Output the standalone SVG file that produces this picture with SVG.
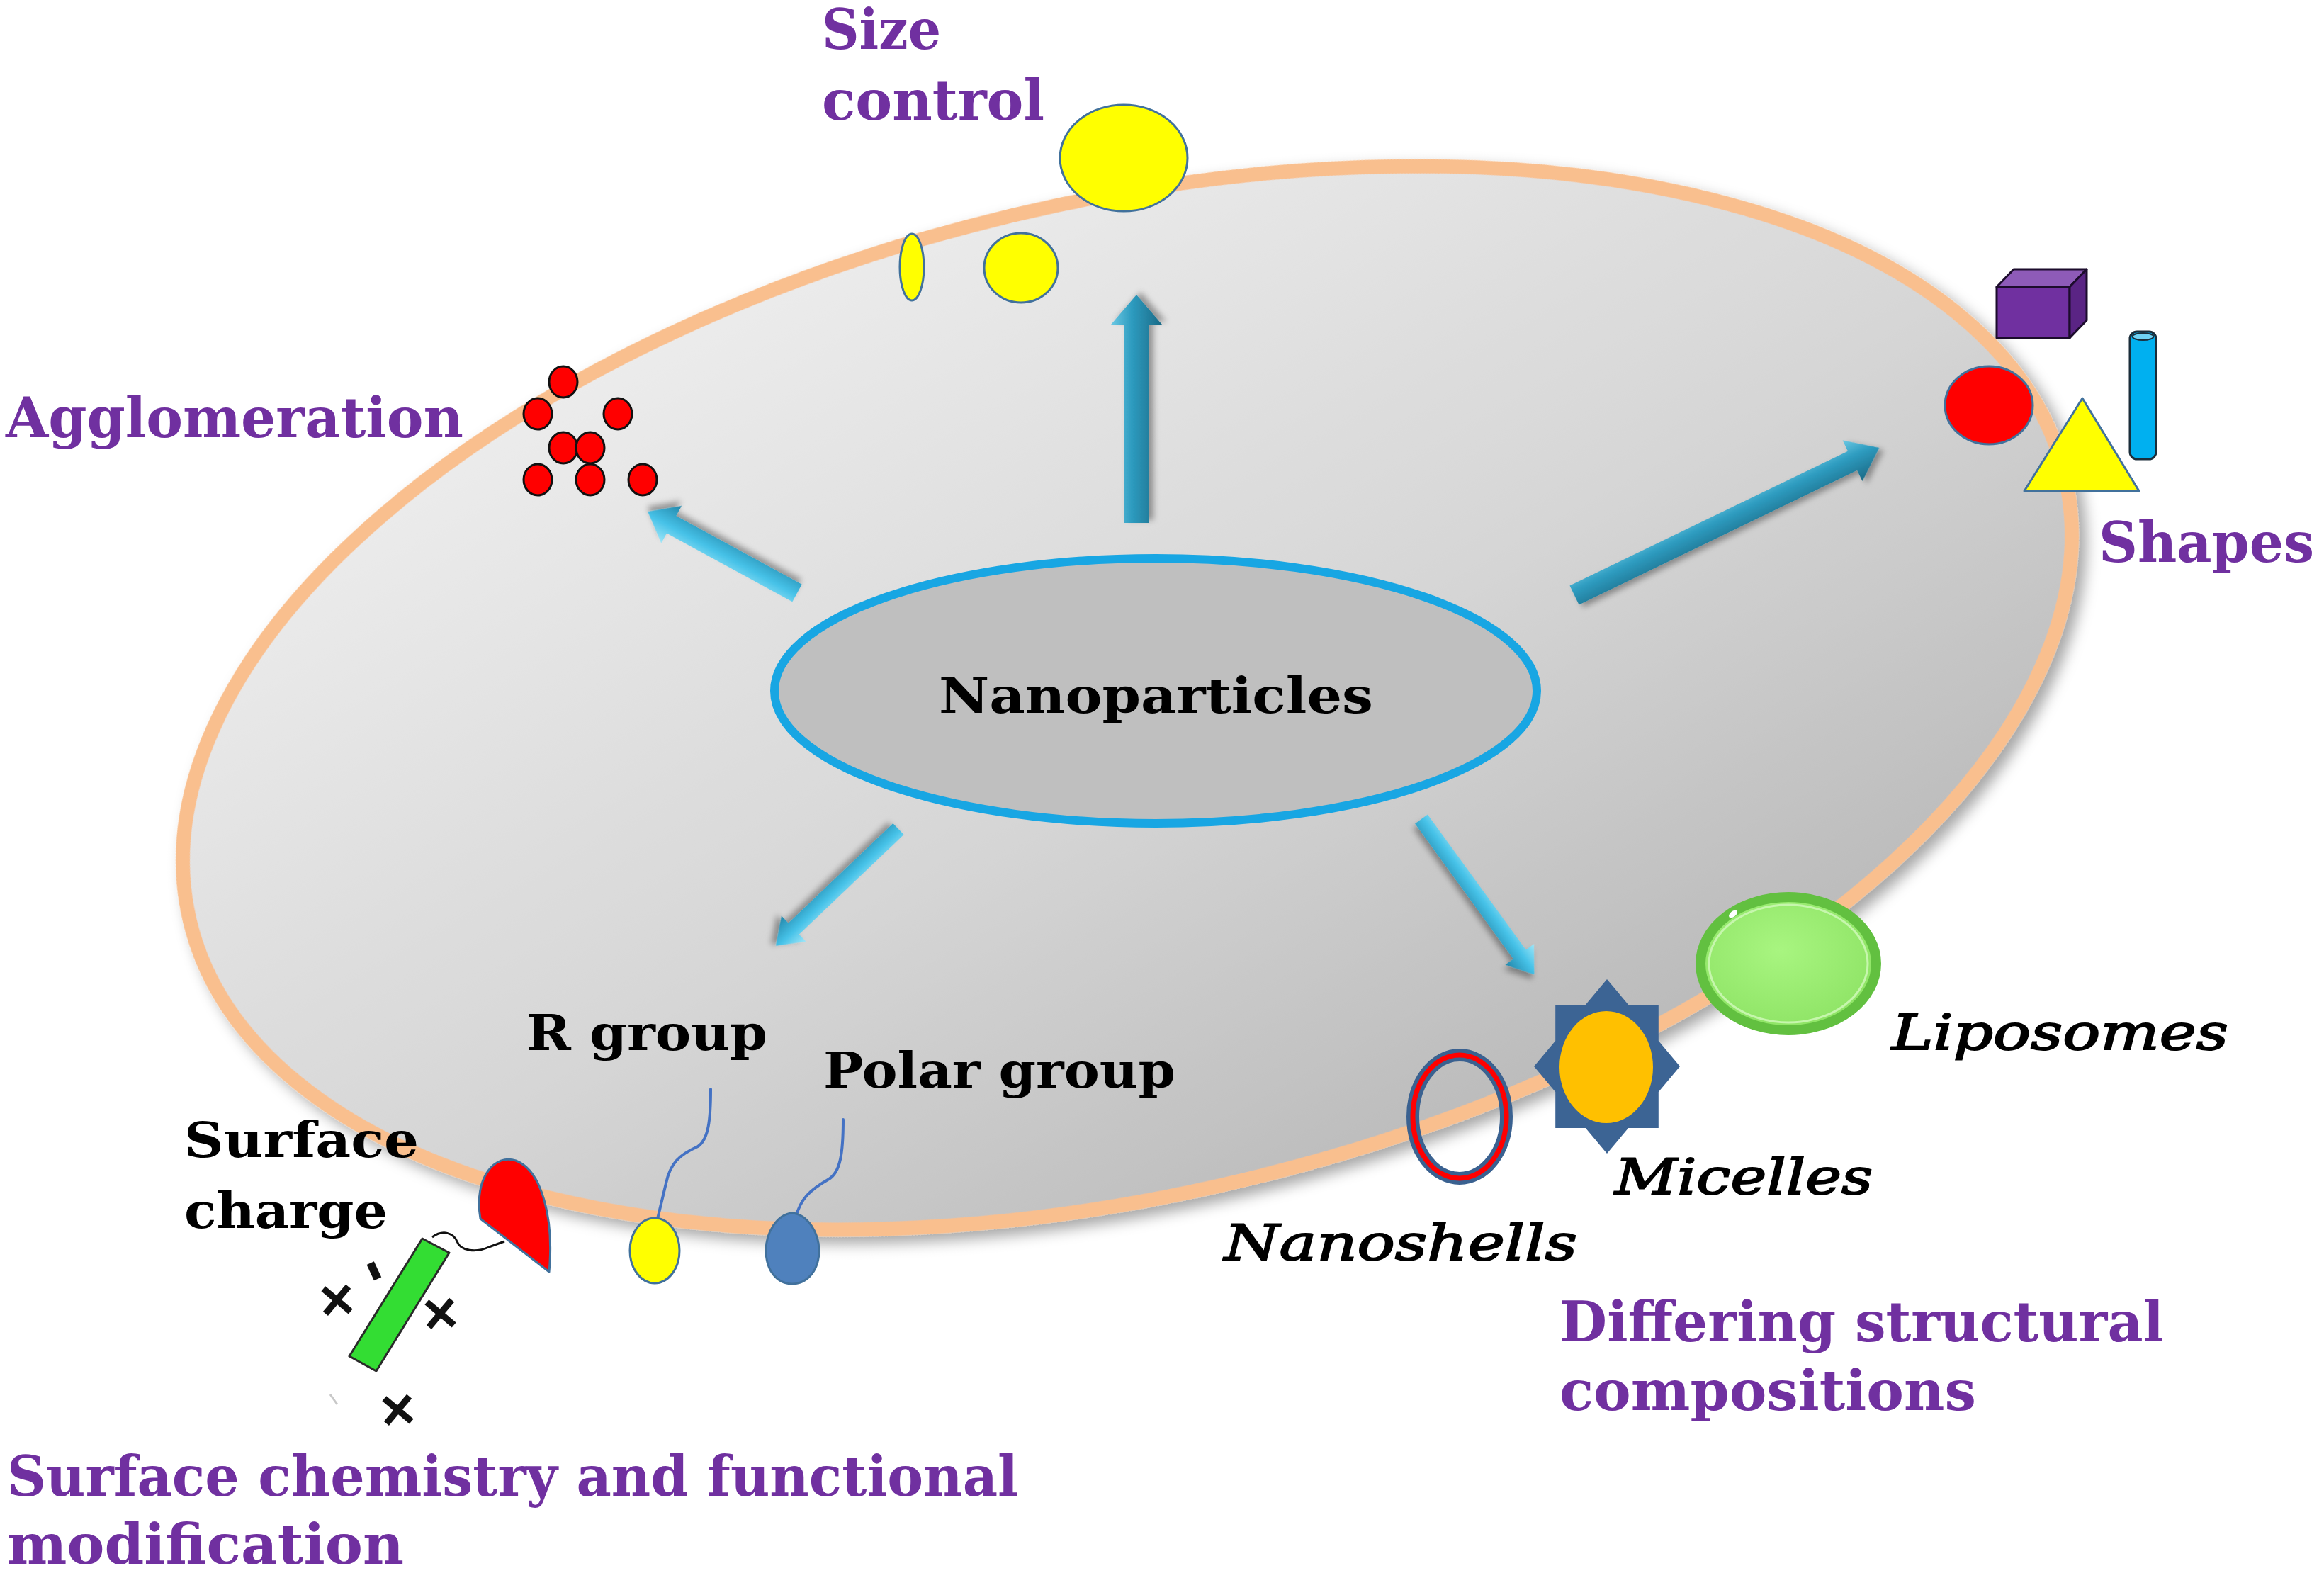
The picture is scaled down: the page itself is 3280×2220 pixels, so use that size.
<svg xmlns="http://www.w3.org/2000/svg" width="3280" height="2220" viewBox="0 0 3280 2220">
<style>
.p{font-family:"DejaVu Serif","Liberation Serif",serif;font-weight:bold;font-size:78px;fill:#7030a0}
.b{font-family:"DejaVu Serif","Liberation Serif",serif;font-weight:bold;font-size:70px;fill:#000}
.i{font-family:"DejaVu Serif","Liberation Serif",serif;font-style:italic;font-size:70px;fill:#000;stroke:#000;stroke-width:2}
.chg{font-family:"DejaVu Sans","Liberation Sans",sans-serif;font-weight:bold;font-size:80px;fill:#111}
.edge{stroke:#41719c;stroke-width:3}
.dot{fill:#ff0000;stroke:#111;stroke-width:3}
.tail{fill:none;stroke:#4472c4;stroke-width:4;stroke-linecap:round}
.arrD{fill:url(#gDark);filter:url(#ash)}
.arrL{fill:url(#gLight);filter:url(#ash)}
</style>
<defs>
<linearGradient id="gBody" x1="0.2" y1="0" x2="0.75" y2="1">
<stop offset="0" stop-color="#efefef"/>
<stop offset="0.55" stop-color="#d6d6d6"/>
<stop offset="1" stop-color="#b8b8b8"/>
</linearGradient>
<linearGradient id="gDark" x1="0" y1="0" x2="0" y2="1">
<stop offset="0" stop-color="#6cc9e4"/>
<stop offset="0.4" stop-color="#2e9cc0"/>
<stop offset="1" stop-color="#1b6a86"/>
</linearGradient>
<linearGradient id="gLight" x1="0" y1="0" x2="0" y2="1">
<stop offset="0" stop-color="#9fe6f8"/>
<stop offset="0.45" stop-color="#46c2e8"/>
<stop offset="1" stop-color="#2387aa"/>
</linearGradient>
<radialGradient id="gLipo" cx="0.45" cy="0.4" r="0.6">
<stop offset="0" stop-color="#a8f580"/>
<stop offset="1" stop-color="#8fe466"/>
</radialGradient>
<filter id="sh" x="-10%" y="-10%" width="120%" height="125%">
<feDropShadow dx="8" dy="12" stdDeviation="10" flood-color="#000" flood-opacity="0.35"/>
</filter>
<filter id="ash" x="-20%" y="-40%" width="140%" height="180%">
<feDropShadow dx="4" dy="6" stdDeviation="4" flood-color="#000" flood-opacity="0.35"/>
</filter>
</defs>
<rect width="3280" height="2220" fill="#fff"/>

<g id="cell">
<ellipse cx="0" cy="0" rx="1360" ry="700" transform="translate(1591 985) rotate(-13.4)" fill="url(#gBody)" stroke="#f9bf8e" stroke-width="20" filter="url(#sh)"/>
</g>

<g id="nanoparticles">
<ellipse cx="1631" cy="975" rx="538" ry="187" fill="#bfbfbf" stroke="#18a6e3" stroke-width="12"/>
<text class="b" x="1325" y="1006" textLength="613" lengthAdjust="spacingAndGlyphs">Nanoparticles</text>
</g>

<g id="connectors">
<polygon class="arrD" points="0,-18 280,-18 280,-36 322,0 280,36 280,18 0,18" transform="translate(1604 738) rotate(-90)"/>
<polygon class="arrL" points="0,-14 202,-14 202,-30 240,0 202,30 202,14 0,14" transform="translate(1125 837) rotate(-151.4)"/>
<polygon class="arrD" points="0,-15 436,-15 436,-32 478,0 436,32 436,15 0,15" transform="translate(2222 840) rotate(-25.8)"/>
<polygon class="arrL" points="0,-11 204,-11 204,-25 239,0 204,25 204,11 0,11" transform="translate(1268 1170) rotate(136.4)"/>
<polygon class="arrL" points="0,-11 236,-11 236,-25 271,0 236,25 236,11 0,11" transform="translate(2006 1156) rotate(54)"/>
</g>

<g id="size-control">
<ellipse class="edge" cx="1586" cy="223" rx="90" ry="75" fill="#ffff00"/>
<ellipse class="edge" cx="1287" cy="377" rx="17" ry="47" fill="#ffff00"/>
<ellipse class="edge" cx="1441" cy="378" rx="52" ry="49" fill="#ffff00"/>
<text class="p" x="1160" y="69" textLength="168" lengthAdjust="spacingAndGlyphs">Size</text>
<text class="p" x="1160" y="169" textLength="314" lengthAdjust="spacingAndGlyphs">control</text>
</g>

<g id="agglomeration">
<ellipse class="dot" cx="795" cy="539" rx="20" ry="22"/>
<ellipse class="dot" cx="759" cy="584" rx="20" ry="22"/>
<ellipse class="dot" cx="872" cy="584" rx="20" ry="22"/>
<ellipse class="dot" cx="795" cy="632" rx="20" ry="22"/>
<ellipse class="dot" cx="833" cy="632" rx="20" ry="22"/>
<ellipse class="dot" cx="759" cy="677" rx="20" ry="22"/>
<ellipse class="dot" cx="833" cy="677" rx="20" ry="22"/>
<ellipse class="dot" cx="907" cy="677" rx="20" ry="22"/>
<text class="p" x="8" y="617" textLength="646" lengthAdjust="spacingAndGlyphs">Agglomeration</text>
</g>

<g id="shapes">
<polygon points="2818,405 2921,405 2921,477 2818,477" fill="#7030a0" stroke="#1c0c2c" stroke-width="3" stroke-linejoin="round"/>
<polygon points="2818,405 2842,380 2945,380 2921,405" fill="#8e5bb8" stroke="#1c0c2c" stroke-width="3" stroke-linejoin="round"/>
<polygon points="2921,405 2945,380 2945,452 2921,477" fill="#5a2484" stroke="#1c0c2c" stroke-width="3" stroke-linejoin="round"/>
<ellipse class="edge" cx="2807" cy="572" rx="62" ry="55" fill="#ff0000"/>
<polygon class="edge" points="2939,562 3019,693 2857,693" fill="#ffff00" stroke-linejoin="round"/>
<rect x="3006" y="468" width="37" height="180" rx="10" fill="#00b0f0" stroke="#1b2d3a" stroke-width="3"/>
<ellipse cx="3024.5" cy="475" rx="15" ry="5" fill="#6fd2f4" stroke="#1b2d3a" stroke-width="2"/>
<text class="p" x="2962" y="793" textLength="304" lengthAdjust="spacingAndGlyphs">Shapes</text>
</g>

<g id="surface-chemistry">
<path d="M678,1720 C668,1660 700,1628 728,1638 C765,1652 782,1720 775,1795 Z" fill="#ff0000" stroke="#41719c" stroke-width="3" stroke-linejoin="round"/>
<path d="M610,1746 C625,1735 640,1740 645,1752 C650,1766 672,1768 690,1760 L712,1752" fill="none" stroke="#111" stroke-width="3"/>
<polygon points="596,1748 634,1768 531,1935 493,1914" fill="#33dd33" stroke="#2a2a2a" stroke-width="3" stroke-linejoin="round"/>
<text class="chg" x="477" y="1833" text-anchor="middle" dominant-baseline="central" transform="rotate(40 477 1833)">+</text>
<text class="chg" x="623" y="1852" text-anchor="middle" dominant-baseline="central" transform="rotate(40 623 1852)">+</text>
<text class="chg" x="563" y="1988" text-anchor="middle" dominant-baseline="central" transform="rotate(40 563 1988)">+</text>
<text class="chg" x="532" y="1792" text-anchor="middle" dominant-baseline="central" font-size="50" transform="rotate(65 532 1792)">-</text>
<line x1="466" y1="1968" x2="476" y2="1982" stroke="#c8c8c8" stroke-width="3"/>
<path class="tail" d="M1003,1537 C1003,1580 1000,1608 985,1618 C958,1630 946,1642 940,1670 L928,1720"/>
<ellipse class="edge" cx="924" cy="1765" rx="35" ry="46" fill="#ffff00"/>
<path class="tail" d="M1190,1580 C1190,1628 1186,1654 1170,1664 C1142,1680 1130,1692 1123,1718"/>
<path class="edge" d="M1118,1712 C1140,1714 1156,1740 1156,1765 C1156,1792 1140,1812 1118,1812 C1096,1812 1081,1792 1081,1765 C1081,1740 1096,1714 1118,1712 Z" fill="#4f81bd"/>
<text class="b" x="743" y="1482" textLength="340" lengthAdjust="spacingAndGlyphs">R group</text>
<text class="b" x="1162" y="1535" textLength="497" lengthAdjust="spacingAndGlyphs">Polar group</text>
<text class="b" x="260" y="1633" textLength="331" lengthAdjust="spacingAndGlyphs">Surface</text>
<text class="b" x="260" y="1733" textLength="287" lengthAdjust="spacingAndGlyphs">charge</text>
<text class="p" x="10" y="2111" textLength="1427" lengthAdjust="spacingAndGlyphs">Surface chemistry and functional</text>
<text class="p" x="10" y="2207" textLength="560" lengthAdjust="spacingAndGlyphs">modification</text>
</g>

<g id="structural">
<ellipse cx="2524" cy="1360" rx="124" ry="94" fill="url(#gLipo)" stroke="#62c040" stroke-width="14"/>
<ellipse cx="2524" cy="1360" rx="112" ry="83" fill="none" stroke="#c6f6ad" stroke-width="3"/>
<ellipse cx="2446" cy="1290" rx="7" ry="4" fill="#fff" transform="rotate(-40 2446 1290)"/>
<polygon points="2268,1382 2298.2,1418 2340.8,1418 2340.8,1469 2371,1505 2340.8,1541 2340.8,1592 2298.2,1592 2268,1628 2237.8,1592 2195.2,1592 2195.2,1541 2165,1505 2195.2,1469 2195.2,1418 2237.8,1418" fill="#3c6494"/>
<ellipse cx="2267" cy="1506" rx="66" ry="79" fill="#ffc000"/>
<ellipse cx="2060" cy="1576" rx="66" ry="87" fill="none" stroke="#3a6190" stroke-width="18"/>
<ellipse cx="2060" cy="1576" rx="66" ry="87" fill="none" stroke="#ff0000" stroke-width="7"/>
<text class="i" x="2670" y="1481" textLength="475" lengthAdjust="spacingAndGlyphs">Liposomes</text>
<text class="i" x="2279" y="1685" textLength="364" lengthAdjust="spacingAndGlyphs">Micelles</text>
<text class="i" x="1728" y="1778" textLength="498" lengthAdjust="spacingAndGlyphs">Nanoshells</text>
<text class="p" x="2201" y="1893" textLength="853" lengthAdjust="spacingAndGlyphs">Differing structural</text>
<text class="p" x="2201" y="1990" textLength="588" lengthAdjust="spacingAndGlyphs">compositions</text>
</g>
</svg>
